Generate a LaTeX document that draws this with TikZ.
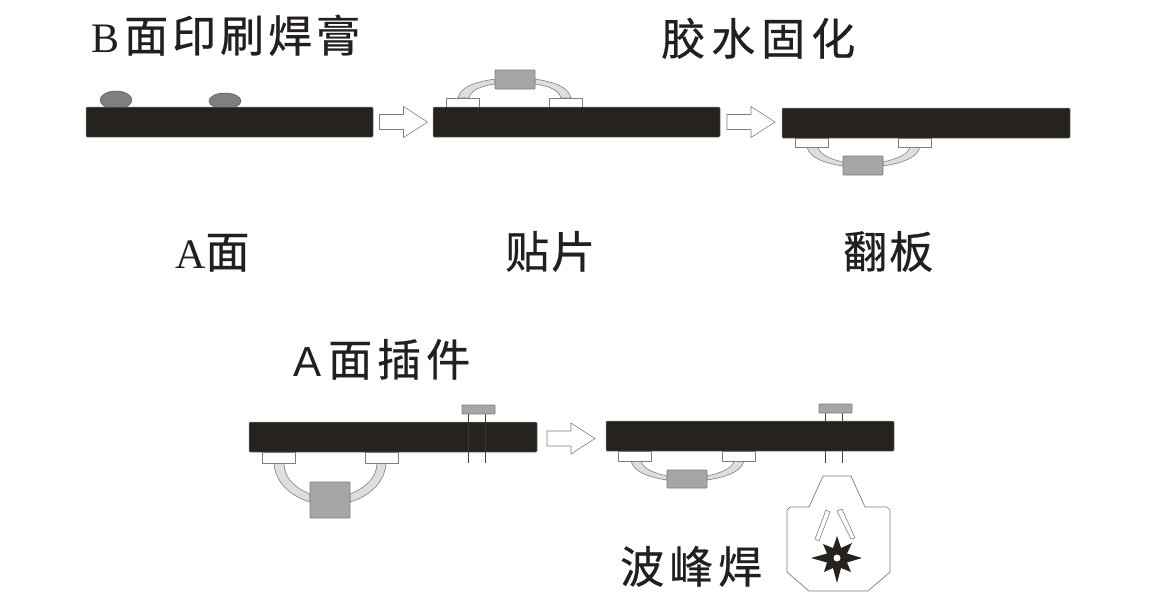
\documentclass[tikz,border=0pt]{standalone}
\usepackage{fontspec}
\setmainfont{Liberation Serif}
\newfontfamily\cjkf[FakeBold=0.6]{Noto Sans CJK SC}
\newfontfamily\sansf{Liberation Sans}
\definecolor{boardc}{HTML}{26231E}
\definecolor{compc}{HTML}{A6A6A4}
\definecolor{edgec}{HTML}{7F7F7F}
\definecolor{bendc}{HTML}{DEDEDC}
\definecolor{textc}{HTML}{231F20}
\definecolor{pinonboard}{HTML}{3C3A36}
\tikzset{
  x=1pt,y=-1pt,
  pcb/.style={fill=boardc,draw=edgec,line width=0.5pt,rounded corners=1pt},
  part/.style={fill=compc,draw=edgec,line width=0.8pt,rounded corners=0.7pt},
  padbox/.style={fill=white,draw=edgec,line width=0.7pt},
  limb/.style={fill=bendc,draw=edgec,line width=0.6pt},
  pin/.style={draw=black!75,line width=0.8pt},
  pinfaint/.style={draw=pinonboard,line width=0.6pt},
  hollow/.style={fill=white,draw=edgec,line width=0.6pt},
  txt/.style={inner sep=0pt,text=textc,anchor=base west},
  blob/.style={fill=edgec,draw=edgec!70!black,line width=0.5pt},
}
\newcommand{\CJ}[1]{{\cjkf\fontsize{44}{44}\selectfont #1}}
\newcommand{\blockarrow}[2]{% tail x, centre y
  \draw[hollow] (#1,#2-7.5) -- (#1+24,#2-7.5) -- (#1+24,#2-15.5) -- (#1+48,#2) -- (#1+24,#2+15.5) -- (#1+24,#2+7.5) -- (#1,#2+7.5) -- cycle;}
\begin{document}
\begin{tikzpicture}
\useasboundingbox (0,0) rectangle (1170,600);
\fill[white] (0,0) rectangle (1170,600);

% --- solder paste and first board
\draw[blob] (116,100) ellipse [x radius=16,y radius=9];
\draw[blob] (225,101) ellipse [x radius=16,y radius=8];
\draw[pcb] (86,107) rectangle (373,137);

% --- board 2, component on top
\draw[limb] (458,98) .. controls (461,86) and (476,82) .. (495,79) -- (495,84) .. controls (481,86) and (471,90) .. (469,98) -- cycle;
\draw[limb] (571,98) .. controls (568,86) and (553,82) .. (535,79) -- (535,84) .. controls (549,86) and (559,90) .. (561,98) -- cycle;
\draw[padbox] (446,98) rectangle (479,107);
\draw[padbox] (549,98) rectangle (582,107);
\draw[part] (495,70) rectangle (535,89);
\draw[pcb] (433,107) rectangle (720,137);

% --- board 3, flipped
\draw[limb] (807,147) .. controls (810,158) and (824,163) .. (843,166) -- (843,162) .. controls (830,159) and (820,155) .. (818,147) -- cycle;
\draw[limb] (920,147) .. controls (917,158) and (902,163) .. (883,166) -- (883,162) .. controls (896,159) and (908,155) .. (910,147) -- cycle;
\draw[padbox] (795,138) rectangle (828,147);
\draw[padbox] (898,138) rectangle (931,147);
\draw[part] (843,156) rectangle (883,175);
\draw[pcb] (782,108) rectangle (1070,138);

% --- board 4
\draw[limb] (274,463) .. controls (275,482) and (290,496) .. (310,502) -- (310,494) .. controls (295,488) and (284,478) .. (284,463) -- cycle;
\draw[limb] (386,463) .. controls (385,482) and (370,496) .. (350,502) -- (350,494) .. controls (365,488) and (377,478) .. (377,463) -- cycle;
\draw[padbox] (262,452) rectangle (295,463);
\draw[padbox] (365,452) rectangle (398,463);
\draw[part] (310,482) rectangle (350,518);
\draw[pin] (468,414) -- (468,463);
\draw[pin] (485,414) -- (485,463);
\draw[pcb] (249,422) rectangle (537,452);
\draw[pinfaint] (468,422) -- (468,452);
\draw[pinfaint] (485,422) -- (485,452);
\draw[part] (462,405) rectangle (495,414);

% --- board 5
\draw[limb] (631,461) .. controls (634,472) and (648,477) .. (667,480) -- (667,476) .. controls (654,473) and (643,469) .. (641,461) -- cycle;
\draw[limb] (744,461) .. controls (741,472) and (726,477) .. (707,480) -- (707,476) .. controls (720,473) and (732,469) .. (734,461) -- cycle;
\draw[padbox] (618,451) rectangle (651,461);
\draw[padbox] (722,451) rectangle (755,461);
\draw[part] (667,470) rectangle (707,488);
\draw[pin] (825,413) -- (825,463);
\draw[pin] (842,413) -- (842,463);
\draw[pcb] (606,421) rectangle (894,451);
\draw[part] (819,404) rectangle (852,413);

% --- block arrows
\blockarrow{379.5}{122}
\blockarrow{727}{122}
\blockarrow{547}{438.5}

% --- wave solder machine
\draw[hollow,line width=0.7pt] (823,476) -- (851,476) -- (865,507) -- (887,507) -- (890,510) -- (890,572) -- (868,591) -- (809,591) -- (787,572) -- (787,510) -- (790,507) -- (809,507) -- cycle;
\draw[hollow] (826,510) -- (830,512) -- (819,541) -- (815,539) -- cycle;
\draw[hollow] (837,511) -- (842,509) -- (855,538) -- (851,539) -- cycle;
\fill[boardc] (837,536) -- (841,548) -- (852,543) -- (847,553.5) -- (862,558) -- (847,562.5) -- (851,572) -- (841,568) -- (837,583) -- (833,568) -- (824,572) -- (827,562.5) -- (811,558) -- (827,553.5) -- (823,544) -- (833,548) -- cycle;
\fill[white] (837,558) circle (3.5);

% --- labels
\node[txt] (t1) at (91,52) {\fontsize{42}{42}\selectfont B\hspace{5pt}\CJ{面\hspace{4pt}印\hspace{4pt}刷\hspace{4pt}焊\hspace{4pt}膏}};
\node[txt] (t2) at (661,55) {\CJ{胶\hspace{6pt}水\hspace{6pt}固\hspace{6pt}化}};
\node[txt] (t3) at (175,268) {\fontsize{42}{42}\selectfont A\CJ{面}};
\node[txt] (t4) at (505,268) {\CJ{贴\hspace{2pt}片}};
\node[txt] (t5) at (843,268) {\CJ{翻\hspace{2pt}板}};
\node[txt] (t6) at (293,376) {\sansf\fontsize{42}{42}\selectfont A\hspace{7pt}\CJ{面\hspace{5pt}插\hspace{5pt}件}};
\node[txt] (t7) at (620,583) {\CJ{波\hspace{5pt}峰\hspace{5pt}焊}};
\end{tikzpicture}
\end{document}
